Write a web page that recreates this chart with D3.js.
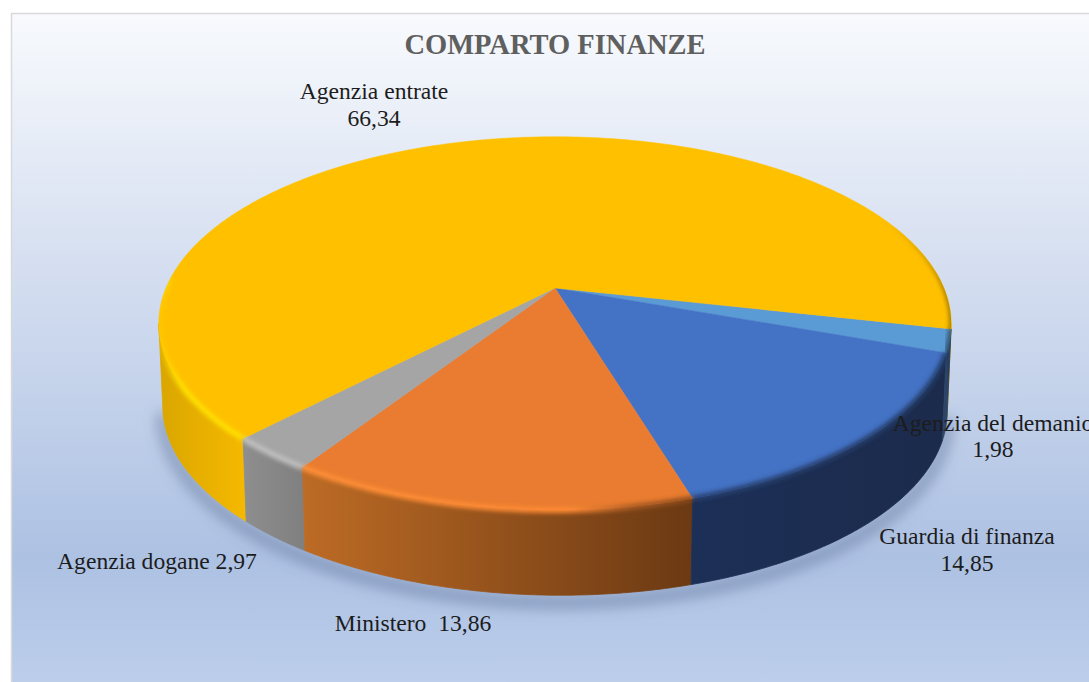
<!DOCTYPE html>
<html><head><meta charset="utf-8">
<script src="https://cdn.jsdelivr.net/npm/d3@7"></script>
<style>html,body{margin:0;padding:0;background:#fff;overflow:hidden}svg{display:block}text{font-family:"Liberation Serif",serif;fill:#1c1c1c}</style>
</head><body><svg id="c" width="1089" height="682"></svg>
<script>
const categories = ["Agenzia del demanio","Guardia di finanza","Ministero","Agenzia dogane","Agenzia entrate"];
const values = [1.98,14.85,13.86,2.97,66.34];
const valueLabels = ["1,98","14,85","13,86","2,97","66,34"];
const titleText = "COMPARTO FINANZE";
const topColors = ["#5B9BD5","#4472C4","#E97C30","#A5A5A5","#FFC000"];
const wallColors = [["#2b4468","#22385a"],["#1c2f56","#1c2b4c"],["#bd6b25","#6b3913"],["#8e8e8e","#808080"],["#d9a600","#f5b800"]];
const labelLayout = [
  {x:993,y:[431,457]},
  {x:967,y:[544,571]},
  {inline:"  ",x:413,y:[631]},
  {inline:" ",x:157,y:[569]},
  {x:374,y:[99,126]}
];

const W=1089,H=682;
const svg=d3.select("#c");
const defs=svg.append("defs");

// Perspective projection of the unit disc
const cx=555,cy=288,a=389,b=180,k=-0.19,depth=85,depthSlope=0.007,wallScale=0.99;
const startAngle=12.6*Math.PI/180;
const proj=(t)=>{const s=Math.sin(t),c=Math.cos(t),d=1+k*s;return [cx+a*c/d,cy+b*s/d];};
const low=(t)=>{const p=proj(t);return [cx+(p[0]-cx)*wallScale,p[1]+depth+(p[0]-cx)*depthSlope];};
const samples=(t0,t1)=>{const n=Math.max(2,Math.ceil(Math.abs(t1-t0)/0.01));return d3.range(n+1).map(i=>t0+(t1-t0)*i/n);};
const line=d3.line();

const pie=d3.pie().sort(null).value(d=>d).startAngle(startAngle).endAngle(startAngle+2*Math.PI);
const arcs=pie(values);

// background
const bg=defs.append("linearGradient").attr("id","bg").attr("x1",0).attr("x2",0).attr("y1",0).attr("y2",1);
[[0,"#f8fafd"],[0.35,"#d7e0f1"],[0.8,"#adc1e3"],[1,"#bdcfeb"]].forEach(s=>bg.append("stop").attr("offset",s[0]).attr("stop-color",s[1]));
svg.append("rect").attr("x",11.5).attr("y",13.5).attr("width",W-4).attr("height",H).attr("fill","url(#bg)").attr("stroke","#d9d9d9").attr("stroke-width",1.5);

const blur=(id,sd)=>defs.append("filter").attr("id",id).attr("x","-20%").attr("y","-20%").attr("width","140%").attr("height","140%").append("feGaussianBlur").attr("stdDeviation",sd);
blur("sh",7);blur("rim",2.2);

const clampTo=(s,e,lo0,hi0)=>{
  const out=[];
  [0,2*Math.PI].forEach(off=>{const lo=Math.max(s,lo0+off),hi=Math.min(e,hi0+off);if(hi>lo)out.push([lo,hi]);});
  return out;
};
// the walls end where the rim turns to the silhouette's side tangent
const tangent=Math.asin(-k);
const wallMin=tangent,wallMax=Math.PI-tangent,rimMin=-0.42,rimMax=Math.PI+0.05;

// silhouette clip for the bevel
const wallTs=samples(wallMin,wallMax);
defs.append("clipPath").attr("id","sil").append("path")
  .attr("d",line(samples(0,2*Math.PI).map(proj))+"Z"+line(wallTs.map(proj).concat(wallTs.map(low).reverse()))+"Z");

// soft shadow under the pie
const shadowPts=wallTs.map(t=>{const p=low(t);return [p[0],p[1]+7];});
svg.append("path").attr("d",line(shadowPts)).attr("fill","none").attr("stroke","#54688f").attr("stroke-opacity",0.5).attr("stroke-width",12).attr("filter","url(#sh)");

// walls, back-most slice first
arcs.map((d,i)=>[d,i]).reverse().forEach(([d,i])=>{
  clampTo(d.startAngle,d.endAngle,wallMin,wallMax).forEach((r,j)=>{
    const ts=samples(r[0],r[1]);
    const up=ts.map(proj),dn=ts.map(low).reverse();
    const xs=up.map(p=>p[0]);
    const id=`w${i}_${j}`;
    const g=defs.append("linearGradient").attr("id",id).attr("gradientUnits","userSpaceOnUse")
      .attr("x1",d3.min(xs)).attr("x2",d3.max(xs)).attr("y1",0).attr("y2",0);
    g.append("stop").attr("offset",0).attr("stop-color",wallColors[i][0]);
    g.append("stop").attr("offset",1).attr("stop-color",wallColors[i][1]);
    svg.append("path").attr("d",line(up.concat(dn))+"Z").attr("fill",`url(#${id})`).attr("stroke",`url(#${id})`).attr("stroke-width",0.8);
  });
});

// top faces
arcs.forEach((d,i)=>{
  const pts=[[cx,cy]].concat(samples(d.startAngle,d.endAngle).map(proj));
  svg.append("path").attr("d",line(pts)+"Z").attr("fill",topColors[i]).attr("stroke",topColors[i]).attr("stroke-width",0.5);
});

// bevel along the front rim
const rimGroup=svg.append("g").attr("clip-path","url(#sil)");
const rimGrad=(id,base)=>{
  const c=d3.color(base);
  const g=defs.append("linearGradient").attr("id",id).attr("gradientUnits","userSpaceOnUse").attr("x1",158).attr("x2",952).attr("y1",0).attr("y2",0);
  [[0,c.brighter(0.45),0.2],[0.03,c.brighter(0.45),1],[0.52,c.brighter(0.3),1],[0.6,c.darker(0.9),1],[0.68,c.darker(1.6),1],[1,c.darker(1.8),1]]
    .forEach(s=>g.append("stop").attr("offset",s[0]).attr("stop-color",s[1].formatHex()).attr("stop-opacity",s[2]));
};
// the back-right end of the large slice fades in going down the edge
const backGrad=(id,base)=>{
  const c=d3.color(base).darker(1.8).formatHex();
  const g=defs.append("linearGradient").attr("id",id).attr("gradientUnits","userSpaceOnUse").attr("x1",0).attr("x2",0)
    .attr("y1",proj(rimMin)[1]).attr("y2",proj(startAngle)[1]);
  [[0,0],[0.7,0.9],[1,1]].forEach(s=>g.append("stop").attr("offset",s[0]).attr("stop-color",c).attr("stop-opacity",s[1]));
};
arcs.forEach((d,i)=>{
  rimGrad("r"+i,topColors[i]);
  clampTo(d.startAngle,d.endAngle,rimMin,rimMax).forEach((r,j)=>{
    const isBack=r[0]>Math.PI;
    if(isBack) backGrad("rb"+i,topColors[i]);
    const pts=samples(r[0],r[1]).map(proj);
    rimGroup.append("path").attr("d",line(pts)).attr("fill","none")
      .attr("stroke",isBack?`url(#rb${i})`:`url(#r${i})`).attr("stroke-width",isBack?3.5:5.5).attr("filter","url(#rim)");
  });
});

// title
svg.append("text").attr("x",555).attr("y",54).attr("text-anchor","middle")
  .attr("font-size",28.5).attr("font-weight","bold").style("fill","#5f5f5f").text(titleText);

// labels
categories.forEach((name,i)=>{
  const l=labelLayout[i];
  const content=l.inline!==undefined?[name+l.inline+valueLabels[i]]:[name,valueLabels[i]];
  content.forEach((s,j)=>{
    svg.append("text").attr("x",l.x).attr("y",l.y[j]).attr("text-anchor","middle")
      .attr("font-size",23.6).style("white-space","pre").text(s);
  });
});
</script></body></html>
